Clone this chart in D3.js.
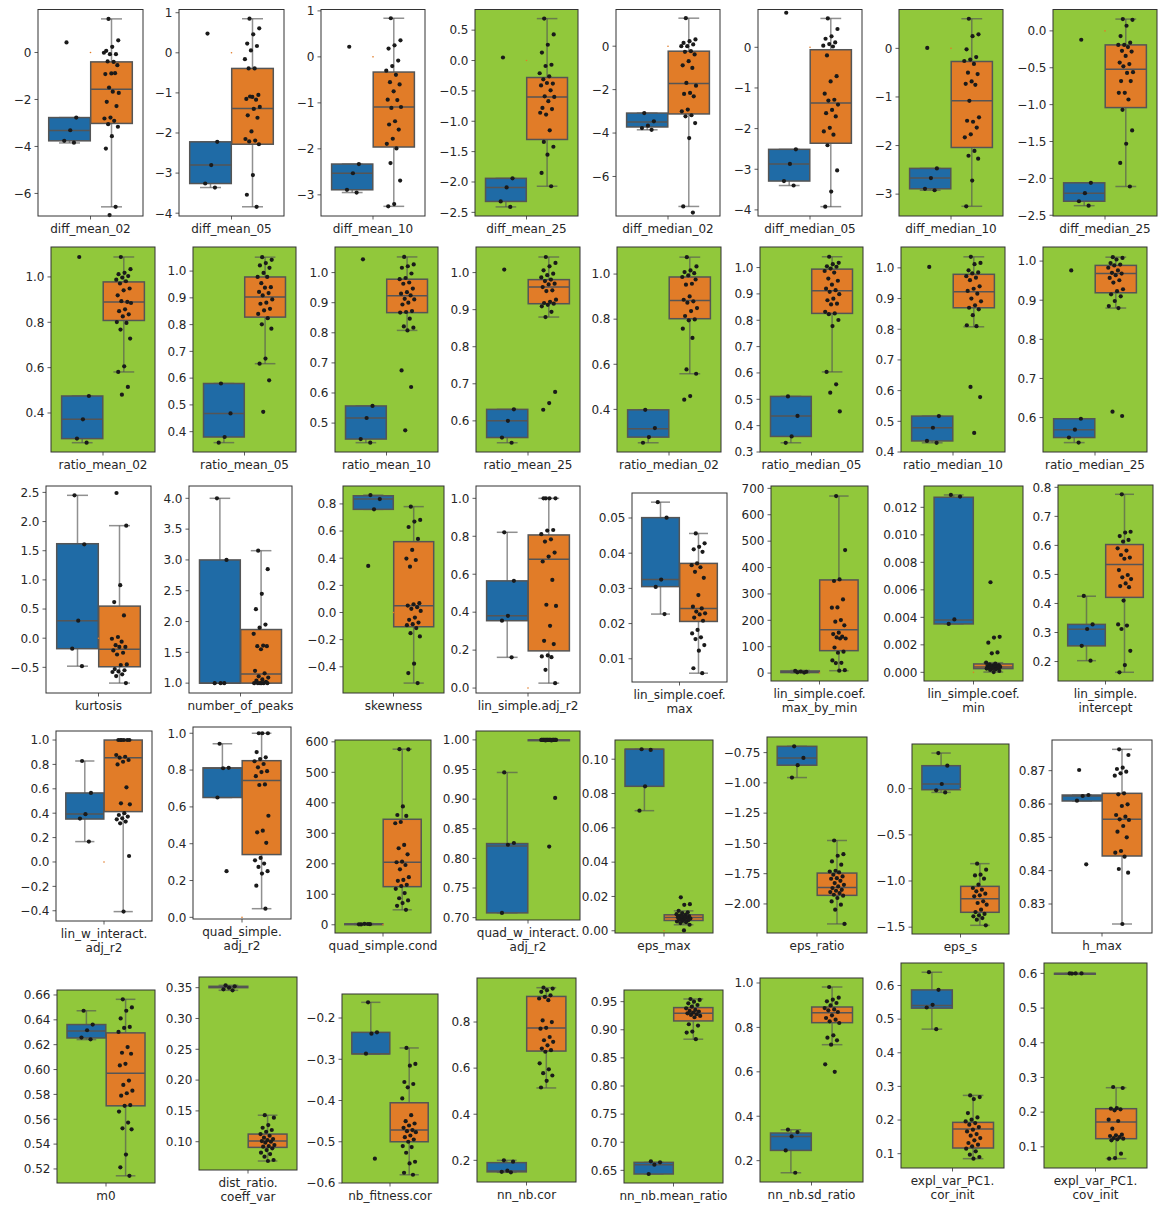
<!DOCTYPE html>
<html>
<head>
<meta charset="utf-8">
<script src="https://cdn.jsdelivr.net/npm/d3@7"></script>
<style>
  html, body { margin: 0; padding: 0; background: #fff; }
  svg { display: block; font-family: "DejaVu Sans", sans-serif; }
  .tk { font-size: 12px; fill: #262626; }
</style>
</head>
<body>
<svg id="chart" width="1159" height="1205"></svg>
<script>
/* feature boxplots, two groups per panel, strip points on top */

const NAMES = [
  'diff_mean_02', 'diff_mean_05', 'diff_mean_10', 'diff_mean_25',
  'diff_median_02', 'diff_median_05', 'diff_median_10', 'diff_median_25',
  'ratio_mean_02', 'ratio_mean_05', 'ratio_mean_10', 'ratio_mean_25',
  'ratio_median_02', 'ratio_median_05', 'ratio_median_10', 'ratio_median_25',
  'kurtosis', 'number_of_peaks', 'skewness', 'lin_simple.adj_r2',
  'lin_simple.coef.\nmax', 'lin_simple.coef.\nmax_by_min', 'lin_simple.coef.\nmin', 'lin_simple.\nintercept',
  'lin_w_interact.\nadj_r2', 'quad_simple.\nadj_r2', 'quad_simple.cond', 'quad_w_interact.\nadj_r2',
  'eps_max', 'eps_ratio', 'eps_s', 'h_max',
  'm0', 'dist_ratio.\ncoeff_var', 'nb_fitness.cor', 'nn_nb.cor',
  'nn_nb.mean_ratio', 'nn_nb.sd_ratio', 'expl_var_PC1.\ncor_init', 'expl_var_PC1.\ncov_init'
];

// panels flagged (drawn on green)
const FLAGGED = [3, 6, 7, 8, 9, 10, 11, 12, 13, 14, 15, 18, 21, 22, 23, 26, 27, 28, 29, 30,
  32, 33, 34, 35, 36, 37, 38, 39];

const Y_RANGE = [
  [-6.96, 1.83], [-4.07, 1.08], [-3.46, 1.03], [-2.56, 0.84],
  [-7.82, 1.69], [-4.15, 0.93], [-3.45, 0.80], [-2.51, 0.29],
  [0.228, 1.132], [0.324, 1.090], [0.404, 1.085], [0.516, 1.069],
  [0.211, 1.120], [0.300, 1.078], [0.400, 1.068], [0.512, 1.036],
  [-0.94, 2.61], [0.84, 4.20], [-0.593, 0.932], [-0.026, 1.065],
  [0.0034, 0.0571], [-30, 709], [-0.00063, 0.01355], [0.133, 0.808],
  [-0.484, 1.074], [-0.009, 1.034], [-27, 606], [0.696, 1.015],
  [-0.0013, 0.1112], [-2.24, -0.621], [-1.574, 0.484], [0.8213, 0.8792],
  [0.5087, 0.664], [0.0541, 0.3673], [-0.6, -0.1418], [0.106, 0.991],
  [0.6275, 0.9707], [0.1039, 1.0225], [0.0574, 0.667], [0.0389, 0.630]
];

const TICKS = [
  ['-6', '-4', '-2', '0'], ['-4', '-3', '-2', '-1', '0', '1'], ['-3', '-2', '-1', '0', '1'],
  ['-2.5', '-2.0', '-1.5', '-1.0', '-0.5', '0.0', '0.5'],
  ['-6', '-4', '-2', '0'], ['-4', '-3', '-2', '-1', '0'], ['-3', '-2', '-1', '0'],
  ['-2.5', '-2.0', '-1.5', '-1.0', '-0.5', '0.0'],
  ['0.4', '0.6', '0.8', '1.0'], ['0.4', '0.5', '0.6', '0.7', '0.8', '0.9', '1.0'],
  ['0.5', '0.6', '0.7', '0.8', '0.9', '1.0'], ['0.6', '0.7', '0.8', '0.9', '1.0'],
  ['0.4', '0.6', '0.8', '1.0'], ['0.3', '0.4', '0.5', '0.6', '0.7', '0.8', '0.9', '1.0'],
  ['0.4', '0.5', '0.6', '0.7', '0.8', '0.9', '1.0'], ['0.6', '0.7', '0.8', '0.9', '1.0'],
  ['-0.5', '0.0', '0.5', '1.0', '1.5', '2.0', '2.5'], ['1.0', '1.5', '2.0', '2.5', '3.0', '3.5', '4.0'],
  ['-0.4', '-0.2', '0.0', '0.2', '0.4', '0.6', '0.8'], ['0.0', '0.2', '0.4', '0.6', '0.8', '1.0'],
  ['0.01', '0.02', '0.03', '0.04', '0.05'], ['0', '100', '200', '300', '400', '500', '600', '700'],
  ['0.000', '0.002', '0.004', '0.006', '0.008', '0.010', '0.012'],
  ['0.2', '0.3', '0.4', '0.5', '0.6', '0.7', '0.8'],
  ['-0.4', '-0.2', '0.0', '0.2', '0.4', '0.6', '0.8', '1.0'], ['0.0', '0.2', '0.4', '0.6', '0.8', '1.0'],
  ['0', '100', '200', '300', '400', '500', '600'], ['0.70', '0.75', '0.80', '0.85', '0.90', '0.95', '1.00'],
  ['0.00', '0.02', '0.04', '0.06', '0.08', '0.10'], ['-2.00', '-1.75', '-1.50', '-1.25', '-1.00', '-0.75'],
  ['-1.5', '-1.0', '-0.5', '0.0'], ['0.83', '0.84', '0.85', '0.86', '0.87'],
  ['0.52', '0.54', '0.56', '0.58', '0.60', '0.62', '0.64', '0.66'],
  ['0.10', '0.15', '0.20', '0.25', '0.30', '0.35'], ['-0.6', '-0.5', '-0.4', '-0.3', '-0.2'],
  ['0.2', '0.4', '0.6', '0.8'], ['0.65', '0.70', '0.75', '0.80', '0.85', '0.90', '0.95'],
  ['0.2', '0.4', '0.6', '0.8', '1.0'], ['0.1', '0.2', '0.3', '0.4', '0.5', '0.6'],
  ['0.1', '0.2', '0.3', '0.4', '0.5', '0.6']
];

// [lower whisker, q1, median, q3, upper whisker]
const BLUE_BOX = [
  [-3.85, -3.76, -3.32, -2.77, -2.77], [-3.36, -3.26, -2.80, -2.22, -2.22], [-2.95, -2.89, -2.53, -2.33, -2.33],
  [-2.41, -2.32, -2.09, -1.94, -1.94], [-3.85, -3.72, -3.49, -3.08, -3.08], [-3.40, -3.29, -2.87, -2.51, -2.51],
  [-2.92, -2.89, -2.67, -2.47, -2.47], [-2.37, -2.31, -2.20, -2.06, -2.06],
  [0.269, 0.287, 0.372, 0.475, 0.475], [0.359, 0.380, 0.468, 0.580, 0.580], [0.435, 0.447, 0.517, 0.557, 0.557],
  [0.541, 0.555, 0.600, 0.631, 0.631], [0.252, 0.277, 0.314, 0.398, 0.398], [0.335, 0.359, 0.437, 0.511, 0.511],
  [0.430, 0.436, 0.479, 0.517, 0.517], [0.536, 0.549, 0.569, 0.597, 0.597],
  [-0.48, -0.18, 0.30, 1.62, 2.45], [1.0, 1.0, 1.0, 3.0, 4.0], [0.760, 0.760, 0.836, 0.860, 0.865],
  [0.162, 0.355, 0.381, 0.565, 0.821], [0.0227, 0.0305, 0.0325, 0.0501, 0.0545], [1, 2, 4, 8, 10],
  [0.00352, 0.00352, 0.00381, 0.01273, 0.0129], [0.203, 0.254, 0.311, 0.328, 0.425],
  [0.167, 0.352, 0.393, 0.566, 0.828], [0.651, 0.651, 0.81, 0.812, 0.943], [0.5, 1, 2, 3, 4],
  [0.708, 0.708, 0.821, 0.825, 0.945], [0.070, 0.0842, 0.1058, 0.1058, 0.1058],
  [-0.956, -0.854, -0.794, -0.698, -0.698], [-0.040, -0.011, 0.051, 0.249, 0.386],
  [0.8609, 0.8609, 0.8624, 0.8627, 0.8627], [0.6241, 0.6254, 0.6311, 0.6362, 0.6473],
  [0.3457, 0.3500, 0.3511, 0.3522, 0.3538], [-0.2870, -0.2870, -0.2865, -0.2348, -0.162],
  [0.148, 0.150, 0.154, 0.190, 0.200], [0.6435, 0.6435, 0.6601, 0.6642, 0.6642],
  [0.1456, 0.2462, 0.3093, 0.3243, 0.3393], [0.4703, 0.5327, 0.5406, 0.587, 0.6396],
  [0.599, 0.5993, 0.5995, 0.6, 0.6]
];

const ORANGE_BOX = [
  [-6.57, -3.02, -1.57, -0.40, 1.43], [-3.84, -2.28, -1.39, -0.39, 0.85], [-3.25, -1.96, -1.09, -0.33, 0.84],
  [-2.07, -1.30, -0.60, -0.28, 0.69], [-7.38, -3.12, -1.72, -0.23, 1.29], [-3.92, -2.36, -1.37, -0.06, 0.71],
  [-3.25, -2.04, -1.08, -0.27, 0.61], [-2.11, -1.04, -0.52, -0.19, 0.16],
  [0.581, 0.808, 0.890, 0.978, 1.088], [0.654, 0.828, 0.903, 0.978, 1.052], [0.808, 0.867, 0.923, 0.978, 1.052],
  [0.880, 0.916, 0.961, 0.981, 1.042], [0.558, 0.802, 0.883, 0.987, 1.075], [0.604, 0.826, 0.912, 0.994, 1.041],
  [0.808, 0.870, 0.922, 0.979, 1.036], [0.880, 0.919, 0.968, 0.989, 1.010],
  [-0.77, -0.49, -0.19, 0.55, 1.93], [1.0, 1.0, 1.15, 1.87, 3.15], [-0.52, -0.105, 0.049, 0.522, 0.780],
  [0.026, 0.196, 0.679, 0.807, 1.0], [0.0059, 0.0206, 0.0243, 0.0371, 0.0456], [9, 85, 164, 353, 671],
  [0.00002, 0.00027, 0.00039, 0.00061, 0.0007], [0.163, 0.421, 0.534, 0.603, 0.776],
  [-0.407, 0.413, 0.855, 1.0, 1.0], [0.047, 0.341, 0.744, 0.851, 1.0], [49, 125, 205, 346, 576],
  [0.9995, 0.9995, 1.0, 1.0, 1.0], [0.0035, 0.0060, 0.0077, 0.0093, 0.0116],
  [-2.165, -1.929, -1.864, -1.745, -1.476], [-1.480, -1.339, -1.191, -1.058, -0.812],
  [0.8240, 0.8444, 0.8554, 0.8632, 0.8764], [0.5145, 0.5708, 0.5970, 0.6295, 0.6565],
  [0.0687, 0.0908, 0.1011, 0.1124, 0.143], [-0.580, -0.5, -0.4718, -0.4055, -0.2726],
  [0.514, 0.674, 0.774, 0.911, 0.949], [0.8832, 0.9157, 0.9293, 0.9394, 0.9547],
  [0.7222, 0.8213, 0.8664, 0.8919, 0.982], [0.0851, 0.1168, 0.1733, 0.1931, 0.2733],
  [0.0659, 0.1234, 0.1715, 0.2099, 0.2705]
];

const BLUE_PTS = [
  [0.43, -2.77, -3.31, -3.76, -3.84], [0.48, -2.22, -2.80, -3.26, -3.36], [0.22, -2.33, -2.53, -2.89, -2.95],
  [0.05, -1.94, -2.09, -2.32, -2.41], [-3.08, -3.46, -3.66, -3.77, -3.85], [0.85, -2.51, -2.87, -3.29, -3.40],
  [0.01, -2.47, -2.67, -2.89, -2.92], [-0.12, -2.06, -2.20, -2.31, -2.37],
  [1.088, 0.475, 0.372, 0.287, 0.269], [0.580, 0.468, 0.380, 0.359], [1.044, 0.557, 0.517, 0.447, 0.435],
  [1.008, 0.631, 0.600, 0.555, 0.541], [0.398, 0.317, 0.277, 0.252], [0.511, 0.437, 0.359, 0.335],
  [1.003, 0.517, 0.479, 0.436, 0.430], [0.976, 0.597, 0.569, 0.549, 0.536],
  [2.45, 1.61, 0.30, -0.18, -0.48], [4.0, 3.0, 1.0, 1.0, 1.0], [0.865, 0.836, 0.760, 0.343],
  [0.821, 0.565, 0.381, 0.355, 0.162], [0.0545, 0.0501, 0.0325, 0.0304, 0.0227], [3, 5, 6, 8, 2],
  [0.0129, 0.01278, 0.00385, 0.00352], [0.426, 0.328, 0.312, 0.254, 0.203],
  [0.828, 0.566, 0.392, 0.356, 0.167], [0.943, 0.812, 0.81, 0.651, 0.251], [1, 2, 3, 1.5, 2.5],
  [0.945, 0.826, 0.823, 0.708], [0.1058, 0.1054, 0.0842, 0.070], [-0.698, -0.794, -0.854, -0.956],
  [0.386, 0.249, 0.051, -0.018, -0.040], [0.8702, 0.8627, 0.8624, 0.8610, 0.8419],
  [0.6473, 0.6362, 0.6316, 0.6257, 0.6243], [0.3538, 0.3522, 0.35, 0.3473, 0.3457],
  [-0.162, -0.2348, -0.238, -0.2865, -0.541], [0.2, 0.194, 0.155, 0.150, 0.148],
  [0.666, 0.6642, 0.6601, 0.6435], [0.3393, 0.3288, 0.3093, 0.2462, 0.1456],
  [0.6396, 0.5871, 0.5426, 0.5347, 0.4703], [0.5995, 0.6, 0.6, 0.6]
];

const ORANGE_PTS = [
  [1.43, 0.52, 0.24, 0.07, -0.07, -0.07, -0.01, -0.40, -0.38, -0.54, -0.89, -0.92, -0.88, -1.49, -1.72, -1.67,
    -2.10, -2.28, -2.77, -2.81, -2.91, -3.05, -3.16, -3.56, -4.09, -6.57, -6.92],
  [0.85, 0.61, 0.46, 0.23, 0.17, 0.06, -0.16, -0.39, -0.39, -1.05, -1.10, -1.15, -1.17, -1.09, -1.35, -1.40,
    -1.56, -1.62, -1.96, -2.15, -2.19, -2.21, -2.28, -3.05, -3.54, -3.84],
  [0.84, 0.36, 0.25, 0.18, -0.08, -0.20, -0.30, -0.39, -0.55, -0.60, -0.75, -0.93, -0.94, -1.11, -1.09, -1.40,
    -1.47, -1.58, -1.78, -1.89, -1.99, -2.31, -2.69, -3.20, -3.25],
  [0.69, 0.43, 0.26, 0.13, -0.07, -0.09, -0.21, -0.26, -0.31, -0.38, -0.37, -0.41, -0.49, -0.59, -0.60, -0.67,
    -0.78, -0.80, -0.89, -0.86, -1.15, -1.34, -1.42, -1.55, -1.85, -2.07],
  [1.29, 0.31, 0.23, 0.15, 0.08, 0.0, 0.0, -0.23, -0.26, -0.38, -0.69, -0.88, -1.0, -1.69, -1.82, -2.15, -2.2,
    -2.31, -2.92, -3.0, -3.18, -3.23, -3.54, -4.23, -7.38, -7.66],
  [0.71, 0.45, 0.27, 0.21, 0.12, 0.08, 0.04, 0.02, -0.20, -0.71, -0.84, -1.14, -1.29, -1.31, -1.41, -1.54,
    -1.62, -1.70, -1.98, -2.07, -2.15, -2.41, -3.03, -3.55, -3.92],
  [0.61, 0.29, 0.25, -0.02, -0.18, -0.23, -0.26, -0.32, -0.50, -0.53, -0.68, -0.73, -0.75, -1.08, -1.42, -1.51,
    -1.49, -1.63, -1.77, -1.83, -2.11, -2.21, -2.27, -2.72, -3.25],
  [0.16, 0.15, 0.07, -0.07, -0.16, -0.19, -0.19, -0.22, -0.27, -0.28, -0.34, -0.43, -0.45, -0.48, -0.56, -0.57,
    -0.68, -0.68, -0.84, -0.84, -0.93, -1.07, -1.35, -1.53, -1.79, -2.11],
  [1.088, 1.034, 1.018, 1.012, 1.004, 0.997, 0.988, 0.981, 0.971, 0.949, 0.941, 0.919, 0.890, 0.893, 0.885,
    0.857, 0.849, 0.835, 0.826, 0.801, 0.797, 0.768, 0.728, 0.606, 0.581, 0.515, 0.481],
  [1.052, 1.042, 1.030, 1.021, 1.012, 0.993, 0.978, 0.978, 0.955, 0.940, 0.938, 0.922, 0.918, 0.909, 0.894,
    0.882, 0.878, 0.859, 0.853, 0.840, 0.824, 0.801, 0.785, 0.673, 0.654, 0.592, 0.474],
  [1.052, 1.027, 1.021, 1.016, 0.997, 0.982, 0.978, 0.967, 0.963, 0.947, 0.935, 0.930, 0.924, 0.913, 0.911,
    0.900, 0.894, 0.872, 0.869, 0.867, 0.847, 0.821, 0.817, 0.808, 0.675, 0.620, 0.476],
  [1.042, 1.026, 1.017, 1.006, 0.997, 0.993, 0.987, 0.981, 0.977, 0.970, 0.968, 0.961, 0.952, 0.950, 0.927,
    0.921, 0.918, 0.916, 0.913, 0.909, 0.894, 0.880, 0.678, 0.648, 0.630],
  [1.075, 1.034, 1.016, 1.009, 1.004, 0.994, 0.987, 0.957, 0.953, 0.976, 0.901, 0.886, 0.879, 0.873, 0.849,
    0.836, 0.814, 0.799, 0.795, 0.758, 0.717, 0.577, 0.558, 0.459, 0.443],
  [1.041, 1.018, 1.013, 1.005, 1.003, 0.996, 0.987, 0.981, 0.958, 0.950, 0.935, 0.920, 0.914, 0.908, 0.899,
    0.882, 0.876, 0.863, 0.860, 0.832, 0.826, 0.823, 0.801, 0.778, 0.604, 0.557, 0.525, 0.454],
  [1.036, 1.016, 1.012, 0.992, 0.985, 0.982, 0.973, 0.968, 0.960, 0.940, 0.932, 0.925, 0.916, 0.900, 0.891,
    0.878, 0.870, 0.865, 0.846, 0.813, 0.810, 0.612, 0.579, 0.462],
  [1.010, 1.008, 1.004, 0.995, 0.991, 0.989, 0.983, 0.976, 0.970, 0.968, 0.964, 0.957, 0.951, 0.945, 0.928,
    0.923, 0.915, 0.910, 0.898, 0.885, 0.880, 0.615, 0.604],
  [2.49, 1.93, 0.91, 0.62, 0.39, 0.02, -0.01, -0.06, -0.12, -0.15, -0.15, -0.21, -0.25, -0.28, -0.45, -0.46,
    -0.53, -0.55, -0.57, -0.58, -0.62, -0.65, -0.77],
  [3.15, 2.85, 2.45, 2.20, 1.95, 1.90, 1.80, 1.61, 1.60, 1.60, 1.55, 1.20, 1.16, 1.11, 1.09, 1.06, 1.04, 1.02,
    1.0, 1.0, 1.0, 1.0, 1.0, 1.0],
  [0.780, 0.682, 0.670, 0.630, 0.542, 0.461, 0.397, 0.387, 0.338, 0.069, 0.061, 0.051, 0.039, 0.027, 0.012,
    -0.037, -0.054, -0.074, -0.086, -0.093, -0.115, -0.152, -0.176, -0.377, -0.446, -0.52],
  [1.0, 1.0, 1.0, 1.0, 0.833, 0.830, 0.811, 0.784, 0.772, 0.714, 0.693, 0.667, 0.570, 0.439, 0.433, 0.328,
    0.249, 0.232, 0.172, 0.167, 0.163, 0.096, 0.026],
  [0.0456, 0.0428, 0.0418, 0.0411, 0.0404, 0.0371, 0.0366, 0.0360, 0.0347, 0.0330, 0.0281, 0.0248, 0.0243,
    0.0234, 0.0229, 0.0226, 0.0217, 0.0208, 0.0182, 0.0172, 0.0161, 0.0156, 0.0139, 0.0123, 0.0073, 0.0059],
  [671, 466, 355, 349, 279, 249, 248, 201, 195, 181, 153, 148, 138, 135, 131, 131, 97, 81, 77, 48, 39, 38, 11, 9],
  [0.00655, 0.00258, 0.00253, 0.00216, 0.00145, 0.00138, 0.00070, 0.00063, 0.00058, 0.00053, 0.00051, 0.00046,
    0.00044, 0.00041, 0.00039, 0.00036, 0.00034, 0.00032, 0.00029, 0.00027, 0.00022, 0.00017, 0.0001, 0.00002],
  [0.776, 0.647, 0.644, 0.632, 0.619, 0.613, 0.590, 0.582, 0.567, 0.558, 0.554, 0.515, 0.498, 0.490, 0.484,
    0.469, 0.460, 0.456, 0.410, 0.328, 0.324, 0.312, 0.237, 0.188, 0.163],
  [1.0, 1.0, 1.0, 1.0, 1.0, 1.0, 0.877, 0.863, 0.855, 0.836, 0.822, 0.80, 0.612, 0.481, 0.473, 0.40, 0.385,
    0.372, 0.358, 0.350, 0.331, 0.317, 0.049, -0.407],
  [1.0, 1.0, 1.0, 0.898, 0.869, 0.860, 0.848, 0.833, 0.815, 0.794, 0.789, 0.767, 0.722, 0.719, 0.552, 0.471,
    0.462, 0.405, 0.323, 0.310, 0.292, 0.274, 0.251, 0.238, 0.172, 0.047],
  [576, 575, 388, 360, 357, 337, 333, 262, 251, 231, 207, 205, 196, 182, 156, 147, 144, 131, 127, 118, 104, 87,
    80, 71, 62, 49],
  [1.0, 1.0, 1.0, 1.0, 1.0, 1.0, 1.0, 1.0, 1.0, 1.0, 1.0, 1.0, 1.0, 1.0, 1.0, 1.0, 1.0, 1.0, 1.0, 1.0, 0.999,
    0.999, 0.902, 0.820],
  [0.0195, 0.0155, 0.0151, 0.0116, 0.0108, 0.0103, 0.0097, 0.0093, 0.0089, 0.0085, 0.0083, 0.0079, 0.0077,
    0.0073, 0.0071, 0.0068, 0.0066, 0.0062, 0.0058, 0.0054, 0.0050, 0.0045, 0.0035, 0.0002],
  [-1.476, -1.589, -1.602, -1.649, -1.676, -1.726, -1.732, -1.740, -1.759, -1.773, -1.787, -1.792, -1.809,
    -1.828, -1.842, -1.855, -1.869, -1.883, -1.891, -1.902, -1.910, -1.924, -1.932, -1.951, -1.979, -2.006,
    -2.047, -2.165],
  [-0.812, -0.877, -0.931, -0.939, -0.975, -1.040, -1.076, -1.094, -1.112, -1.137, -1.155, -1.166, -1.220,
    -1.238, -1.256, -1.310, -1.336, -1.357, -1.372, -1.383, -1.401, -1.419, -1.480],
  [0.8764, 0.8747, 0.8709, 0.8705, 0.8697, 0.8692, 0.8685, 0.8632, 0.8629, 0.8599, 0.8594, 0.8567, 0.8562,
    0.8554, 0.8552, 0.8534, 0.8517, 0.8500, 0.8459, 0.8454, 0.8442, 0.8405, 0.8394, 0.8240],
  [0.6565, 0.6500, 0.6473, 0.6411, 0.6343, 0.6335, 0.6303, 0.6181, 0.6135, 0.6127, 0.6046, 0.6033, 0.5911,
    0.5876, 0.5830, 0.5809, 0.5790, 0.5714, 0.5708, 0.5662, 0.5573, 0.5527, 0.5519, 0.5316, 0.5213, 0.5145],
  [0.143, 0.139, 0.127, 0.1227, 0.119, 0.1162, 0.1124, 0.1097, 0.1065, 0.1043, 0.1027, 0.1011, 0.10, 0.0984,
    0.0946, 0.093, 0.0919, 0.0892, 0.0865, 0.0822, 0.08, 0.0757, 0.0703, 0.0687],
  [-0.2726, -0.3114, -0.3155, -0.3551, -0.36, -0.368, -0.395, -0.4355, -0.4501, -0.4557, -0.4606, -0.4662,
    -0.4718, -0.4743, -0.4767, -0.4848, -0.4889, -0.4945, -0.5, -0.5105, -0.5129, -0.5267, -0.5485, -0.5525,
    -0.5752, -0.580],
  [0.949, 0.945, 0.938, 0.931, 0.916, 0.909, 0.902, 0.895, 0.807, 0.80, 0.775, 0.771, 0.735, 0.721, 0.714,
    0.699, 0.685, 0.678, 0.671, 0.621, 0.595, 0.578, 0.568, 0.545, 0.516],
  [0.9547, 0.953, 0.95, 0.947, 0.944, 0.941, 0.9382, 0.9352, 0.9335, 0.9323, 0.9305, 0.9293, 0.9276, 0.9264,
    0.9246, 0.9222, 0.9098, 0.9074, 0.8968, 0.895, 0.8832],
  [0.982, 0.934, 0.925, 0.9174, 0.91, 0.899, 0.887, 0.881, 0.8769, 0.8694, 0.8544, 0.8423, 0.8348, 0.8273,
    0.8198, 0.7642, 0.7537, 0.7417, 0.7222, 0.6336, 0.60],
  [0.2733, 0.2683, 0.2624, 0.2208, 0.2079, 0.201, 0.196, 0.1911, 0.1861, 0.1792, 0.1713, 0.1663, 0.1584,
    0.1535, 0.1465, 0.1396, 0.1317, 0.1267, 0.1218, 0.1149, 0.107, 0.097, 0.0901, 0.0851],
  [0.2725, 0.2696, 0.2118, 0.2099, 0.208, 0.2051, 0.1782, 0.1744, 0.1522, 0.135, 0.1331, 0.1311, 0.1282,
    0.1253, 0.1234, 0.1215, 0.1186, 0.0801, 0.0676, 0.0659]
];

/* axes frames in page pixels: [left, right, top, bottom] */
const FRAMES = [
  [38, 143, 9.5, 216], [179, 284, 9.5, 216], [321, 425, 9.5, 216], [475, 578, 9.5, 216],
  [616, 720, 9.5, 216], [758, 862, 9.5, 216], [899, 1003, 9.5, 216], [1053, 1157, 9.5, 216],
  [51, 155, 247, 452], [193, 296, 247, 452], [335, 438, 247, 452], [476, 580, 247, 452],
  [617, 721, 247, 452], [760, 863, 247, 452], [901, 1005, 247, 452], [1043, 1147, 247, 452],
  [46, 151, 486, 693], [189, 292, 486, 693], [343, 444, 486, 693], [476, 580, 486, 693],
  [632, 727, 493, 682], [771, 868, 486, 681], [924, 1023, 486, 681], [1058, 1153, 485, 681],
  [56, 152, 731, 921], [193, 291, 727, 919], [335, 431, 740, 933], [476, 580, 731, 920],
  [615, 713, 740, 933], [767, 867, 737, 933], [912, 1009, 744, 934], [1052, 1152, 740, 933],
  [57, 155, 990, 1183], [199, 297, 977, 1170], [342, 438, 994, 1183], [477, 576, 978, 1182],
  [624, 723, 990, 1183], [760, 863, 978, 1182], [901, 1004, 963, 1168], [1044, 1147, 963, 1168]
];

const BLUE = '#1f6ba6';
const ORANGE = '#e17c28';
const GREEN = '#91c83b';
const LINE = '#555555';
const INK = '#262626';

const svg = d3.select('#chart');
const jitter = (i) => (((i * 0.6180339887 + 0.31) % 1) - 0.5) * 0.15;

NAMES.forEach((name, i) => {
  const [x0, x1, y0, y1] = FRAMES[i];
  const x = d3.scaleLinear().domain([-0.5, 0.5]).range([x0, x1]);
  const y = d3.scaleLinear().domain(Y_RANGE[i]).range([y1, y0]);
  const g = svg.append('g');

  g.append('rect')
    .attr('x', x0).attr('y', y0).attr('width', x1 - x0).attr('height', y1 - y0)
    .attr('fill', FLAGGED.includes(i) ? GREEN : '#fff');

  /* boxes: blue on the left half, orange on the right */
  const groups = [
    { c: -0.2, box: BLUE_BOX[i], pts: BLUE_PTS[i], fill: BLUE },
    { c: 0.2, box: ORANGE_BOX[i], pts: ORANGE_PTS[i], fill: ORANGE }
  ];
  groups.forEach((gr) => {
    const [lo, q1, med, q3, hi] = gr.box;
    const bx = g.append('g')
      .attr('stroke', LINE).attr('stroke-opacity', 0.65).attr('stroke-width', 1.5).attr('fill', 'none');
    bx.append('line').attr('x1', x(gr.c)).attr('x2', x(gr.c)).attr('y1', y(lo)).attr('y2', y(q1));
    bx.append('line').attr('x1', x(gr.c)).attr('x2', x(gr.c)).attr('y1', y(q3)).attr('y2', y(hi));
    bx.append('line').attr('x1', x(gr.c - 0.1)).attr('x2', x(gr.c + 0.1)).attr('y1', y(lo)).attr('y2', y(lo));
    bx.append('line').attr('x1', x(gr.c - 0.1)).attr('x2', x(gr.c + 0.1)).attr('y1', y(hi)).attr('y2', y(hi));
    g.append('rect')
      .attr('x', x(gr.c - 0.198)).attr('width', x(gr.c + 0.198) - x(gr.c - 0.198))
      .attr('y', y(q3)).attr('height', Math.max(0.8, y(q1) - y(q3)))
      .attr('fill', gr.fill).attr('stroke', LINE).attr('stroke-width', 1.5);
    g.append('line')
      .attr('x1', x(gr.c - 0.198)).attr('x2', x(gr.c + 0.198)).attr('y1', y(med)).attr('y2', y(med))
      .attr('stroke', LINE).attr('stroke-width', 1.5);
  });

  /* faint marker sitting at zero in the middle */
  const [ya, yb] = Y_RANGE[i];
  if (ya < 0 && yb > 0) {
    g.append('circle').attr('cx', x(0)).attr('cy', y(0)).attr('r', 0.8).attr('fill', ORANGE);
  }

  /* strip points */
  groups.forEach((gr) => {
    g.append('g').selectAll('circle').data(gr.pts).join('circle')
      .attr('cx', (d, k) => x(gr.c + jitter(k)))
      .attr('cy', (d) => y(d))
      .attr('r', 2.1)
      .attr('fill', '#1a1a1a');
  });

  /* frame */
  g.append('rect')
    .attr('x', x0).attr('y', y0).attr('width', x1 - x0).attr('height', y1 - y0)
    .attr('fill', 'none').attr('stroke', '#333').attr('stroke-width', 1);

  /* y ticks */
  const ticks = TICKS[i];
  const ty = g.append('g');
  ty.selectAll('line').data(ticks).join('line')
    .attr('x1', x0 - 3.5).attr('x2', x0)
    .attr('y1', (d) => y(+d)).attr('y2', (d) => y(+d))
    .attr('stroke', '#333').attr('stroke-width', 0.8);
  ty.selectAll('text').data(ticks).join('text')
    .attr('class', 'tk')
    .attr('x', x0 - 6.5)
    .attr('y', (d) => y(+d))
    .attr('dy', '0.36em')
    .attr('text-anchor', 'end')
    .text((d) => d.replace('-', '\u2212'));

  /* single x tick with the feature name */
  g.append('line')
    .attr('x1', x(0)).attr('x2', x(0)).attr('y1', y1).attr('y2', y1 + 3.5)
    .attr('stroke', '#333').attr('stroke-width', 0.8);
  const lab = g.append('text').attr('class', 'tk').attr('text-anchor', 'middle');
  name.split('\n').forEach((line, k) => {
    lab.append('tspan').attr('x', x(0)).attr('y', y1 + 17 + k * 14).text(line);
  });
});
</script>
</body>
</html>
